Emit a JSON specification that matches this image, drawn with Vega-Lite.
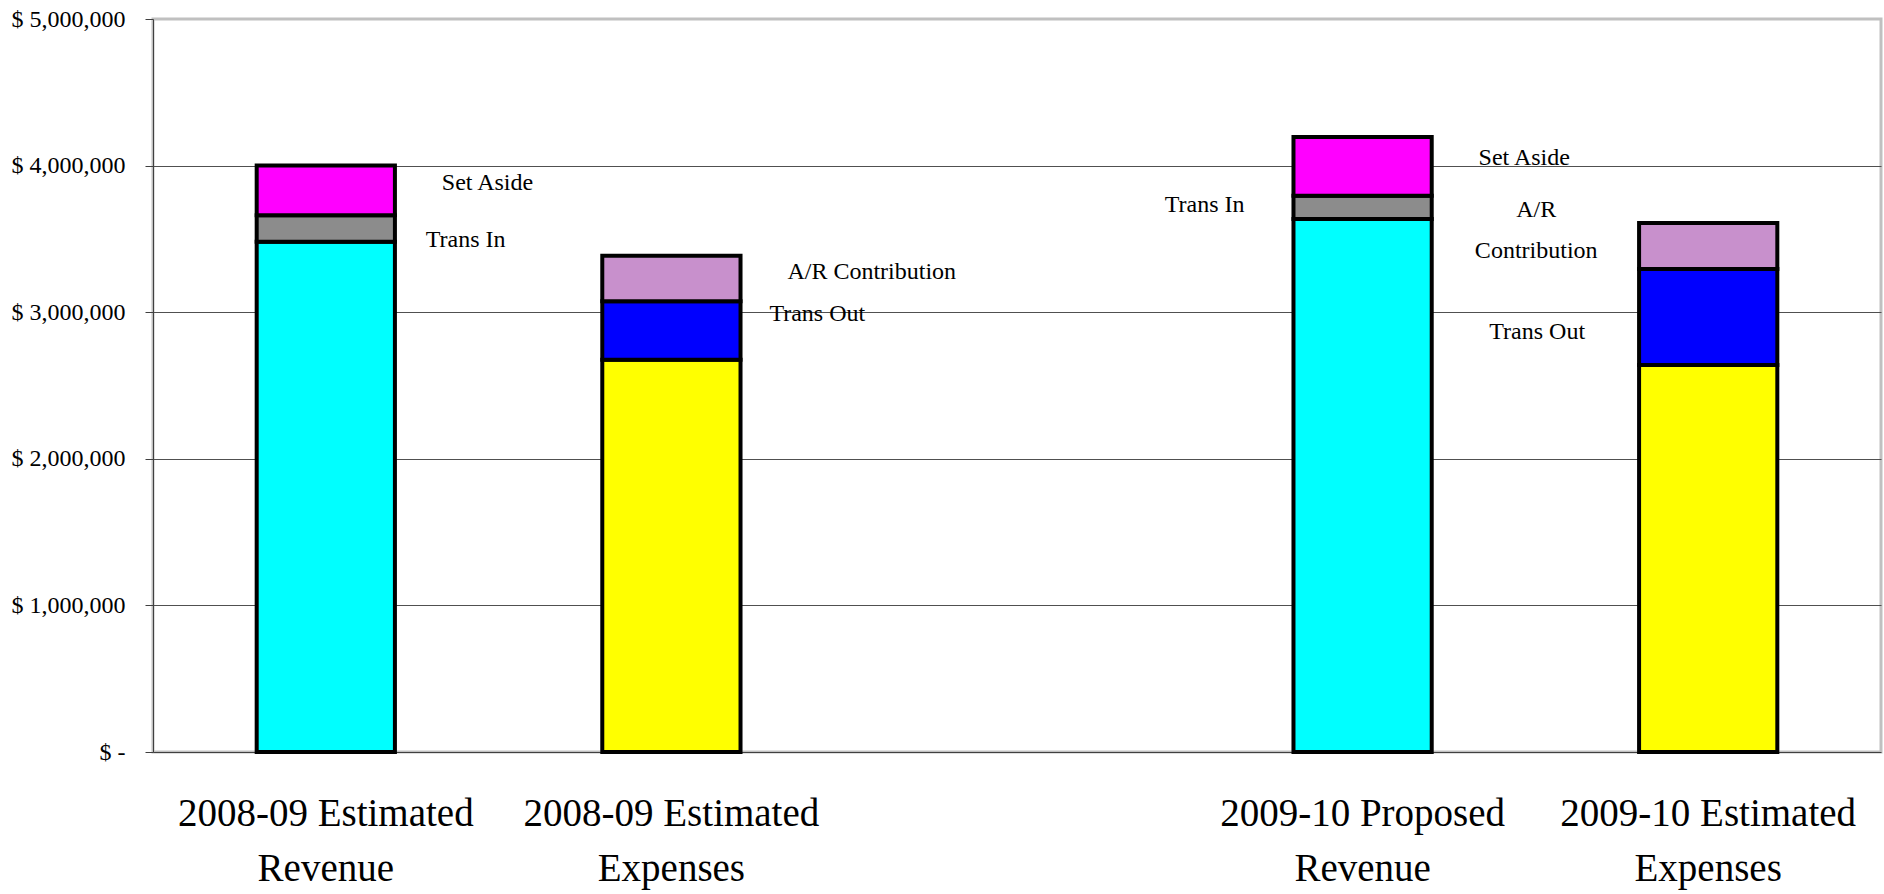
{
  "$schema": "https://vega.github.io/schema/vega-lite/v6.json",
  "autosize": "none",
  "width": 1728,
  "height": 733,
  "padding": {"left": 153, "top": 19, "right": 3, "bottom": 142},
  "background": "white",
  "config": {
    "view": {"stroke": "#c0c0c0", "strokeWidth": 3},
    "font": "Liberation Serif",
    "text": {"font": "Liberation Serif", "fontSize": 24, "color": "black", "baseline": "middle", "lineBreak": "|", "lineHeight": 41}
  },
  "data": {
    "values": [
      {"category": "2008-09 Estimated Revenue", "component": "Revenue", "tier": 1, "value": 3480000, "label": ""},
      {"category": "2008-09 Estimated Revenue", "component": "Trans In", "tier": 2, "value": 182000, "label": "Trans In"},
      {"category": "2008-09 Estimated Revenue", "component": "Set Aside", "tier": 3, "value": 339000, "label": "Set Aside"},
      {"category": "2008-09 Estimated Expenses", "component": "Expenses", "tier": 1, "value": 2675000, "label": ""},
      {"category": "2008-09 Estimated Expenses", "component": "Trans Out", "tier": 2, "value": 400000, "label": "Trans Out"},
      {"category": "2008-09 Estimated Expenses", "component": "A/R Contribution", "tier": 3, "value": 310000, "label": "A/R Contribution"},
      {"category": "2009-10 Proposed Revenue", "component": "Revenue", "tier": 1, "value": 3635000, "label": ""},
      {"category": "2009-10 Proposed Revenue", "component": "Trans In", "tier": 2, "value": 160000, "label": "Trans In"},
      {"category": "2009-10 Proposed Revenue", "component": "Set Aside", "tier": 3, "value": 400000, "label": "Set Aside"},
      {"category": "2009-10 Estimated Expenses", "component": "Expenses", "tier": 1, "value": 2640000, "label": ""},
      {"category": "2009-10 Estimated Expenses", "component": "Trans Out", "tier": 2, "value": 655000, "label": "Trans Out"},
      {"category": "2009-10 Estimated Expenses", "component": "A/R Contribution", "tier": 3, "value": 313000, "label": "A/R|Contribution"}
    ]
  },
  "encoding": {
    "x": {
      "field": "category",
      "type": "nominal",
      "scale": {
        "domain": ["2008-09 Estimated Revenue", "2008-09 Estimated Expenses", " ", "2009-10 Proposed Revenue", "2009-10 Estimated Expenses"],
        "paddingInner": 0,
        "paddingOuter": 0
      },
      "axis": {
        "title": null,
        "labelAngle": 0,
        "labelExpr": "[slice(datum.value, 0, lastindexof(datum.value, ' ')), slice(datum.value, lastindexof(datum.value, ' ') + 1)]",
        "labelFont": "Liberation Serif",
        "labelFontSize": 39,
        "labelLineHeight": 55,
        "labelLimit": 0,
        "labelPadding": 42,
        "labelColor": "black",
        "ticks": false,
        "domainColor": "#404040",
        "grid": false
      }
    },
    "y": {
      "field": "value",
      "type": "quantitative",
      "stack": "zero",
      "scale": {"domain": [0, 5000000], "nice": false},
      "axis": {
        "title": null,
        "values": [0, 1000000, 2000000, 3000000, 4000000, 5000000],
        "format": ",d",
        "labelExpr": "datum.value == 0 ? '$ -\u00a0\u00a0\u00a0\u00a0' : '$ ' + datum.label",
        "labelOverlap": false,
        "labelFont": "Liberation Serif",
        "labelFontSize": 24,
        "labelColor": "black",
        "labelPadding": 20,
        "tickSize": 8,
        "tickColor": "#404040",
        "domainColor": "#404040",
        "grid": true,
        "gridColor": {"condition": {"test": "datum.value == 0 || datum.value == 5000000", "value": "transparent"}, "value": "#505050"},
        "gridWidth": 1
      }
    },
    "order": {"field": "tier", "type": "quantitative", "sort": "ascending"}
  },
  "layer": [
    {
      "mark": {"type": "bar", "width": {"band": 0.4}, "stroke": "black", "strokeWidth": 4},
      "encoding": {
        "color": {
          "field": "component",
          "type": "nominal",
          "scale": {
            "domain": ["Revenue", "Expenses", "Trans In", "Trans Out", "Set Aside", "A/R Contribution"],
            "range": ["#00ffff", "#ffff00", "#8c8c8c", "#0000ff", "#ff00ff", "#c890cc"]
          },
          "legend": null
        }
      }
    },
    {
      "mark": {"type": "text", "align": "left", "dx": 116},
      "encoding": {
        "y": {"field": "value", "type": "quantitative", "stack": "zero", "bandPosition": 0.64},
        "detail": {"field": "component"},
        "text": {
          "condition": {"test": "(datum.category == '2008-09 Estimated Revenue' && datum.component == 'Set Aside') || (datum.category == '2008-09 Estimated Expenses' && datum.component == 'A/R Contribution') || (datum.category == '2009-10 Proposed Revenue' && datum.component == 'Set Aside')", "field": "label"},
          "value": ""
        }
      }
    },
    {
      "mark": {"type": "text", "align": "left", "dx": 100},
      "encoding": {
        "y": {"field": "value", "type": "quantitative", "stack": "zero", "bandPosition": 0.07},
        "detail": {"field": "component"},
        "text": {
          "condition": {"test": "datum.category == '2008-09 Estimated Revenue' && datum.component == 'Trans In'", "field": "label"},
          "value": ""
        }
      }
    },
    {
      "mark": {"type": "text", "align": "left", "dx": 98},
      "encoding": {
        "y": {"field": "value", "type": "quantitative", "stack": "zero", "bandPosition": 0.78},
        "detail": {"field": "component"},
        "text": {
          "condition": {"test": "datum.category == '2008-09 Estimated Expenses' && datum.component == 'Trans Out'", "field": "label"},
          "value": ""
        }
      }
    },
    {
      "mark": {"type": "text", "align": "center", "dx": -158},
      "encoding": {
        "y": {"field": "value", "type": "quantitative", "stack": "zero", "bandPosition": 0.6},
        "detail": {"field": "component"},
        "text": {
          "condition": {"test": "datum.category == '2009-10 Proposed Revenue' && datum.component == 'Trans In'", "field": "label"},
          "value": ""
        }
      }
    },
    {
      "mark": {"type": "text", "align": "center", "dx": -172, "dy": -14},
      "encoding": {
        "y": {"field": "value", "type": "quantitative", "stack": "zero", "bandPosition": 0.99},
        "detail": {"field": "component"},
        "text": {
          "condition": {"test": "datum.category == '2009-10 Estimated Expenses' && datum.component == 'A/R Contribution'", "field": "label"},
          "value": ""
        }
      }
    },
    {
      "mark": {"type": "text", "align": "center", "dx": -171},
      "encoding": {
        "y": {"field": "value", "type": "quantitative", "stack": "zero", "bandPosition": 0.34},
        "detail": {"field": "component"},
        "text": {
          "condition": {"test": "datum.category == '2009-10 Estimated Expenses' && datum.component == 'Trans Out'", "field": "label"},
          "value": ""
        }
      }
    }
  ]
}
